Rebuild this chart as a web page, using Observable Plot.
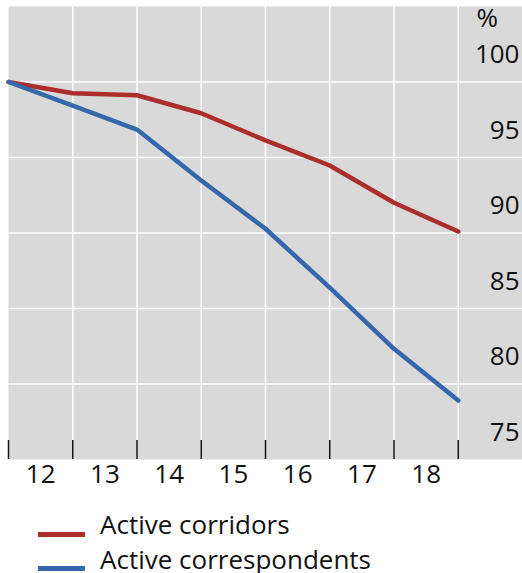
<!DOCTYPE html>
<html>
<head>
<meta charset="utf-8">
<script src="https://cdn.jsdelivr.net/npm/d3@7"></script>
<script src="https://cdn.jsdelivr.net/npm/@observablehq/plot@0.6"></script>
<style>
  body { margin: 0; background: #fff; font-family: "Open Sans", sans-serif; }
  #wrap { position: relative; width: 522px; height: 573px; overflow: hidden; }
  #wrap svg { display: block; }
  .leg { position: absolute; left: 0; height: 28px; width: 522px; }
  .sw { position: absolute; left: 38px; width: 47px; height: 5px; top: 21.5px; }
  .lt { position: absolute; left: 100px; top: 0; font-size: 26px; line-height: 28px; color: #111; white-space: nowrap; }
</style>
</head>
<body>
<div id="wrap"></div>
<script>
const years = ["12", "13", "14", "15", "16", "17", "18"];
const periods = [0, 1, 2, 3, 4, 5, 6, 7];
const corridors = [100, 99.26, 99.12, 97.93, 96.13, 94.47, 92.0, 90.1];
const correspondents = [100, 98.44, 96.85, 93.48, 90.28, 86.38, 82.33, 78.9];
const yTicks = [75, 80, 85, 90, 95, 100];
const seriesNames = ["Active corridors", "Active correspondents"];
const colors = ["#ab2e2b", "#3567ac"];

const data = [
  ...periods.map((p, i) => ({x: p, v: corridors[i], s: seriesNames[0]})),
  ...periods.map((p, i) => ({x: p, v: correspondents[i], s: seriesNames[1]}))
];

const plot = Plot.plot({
  width: 522,
  height: 500,
  marginTop: 6,
  marginBottom: 41,
  marginLeft: 8,
  marginRight: 0,
  style: {fontFamily: "Open Sans, sans-serif", color: "#111"},
  x: {domain: [0, 8], axis: null},
  y: {domain: [75, 105], axis: null},
  color: {domain: seriesNames, range: colors},
  marks: [
    Plot.frame({fill: "#d9d9d9", stroke: null}),
    Plot.ruleY([80, 85, 90, 95, 100], {stroke: "white", strokeWidth: 1.5}),
    Plot.ruleX(periods.slice(1), {stroke: "white", strokeWidth: 1.5}),
    Plot.ruleX(periods, {stroke: "#111", strokeWidth: 1.5, insetTop: 434}),
    Plot.line(data, {x: "x", y: "v", stroke: "s", z: "s", strokeWidth: 4.5, strokeLinejoin: "round", strokeLinecap: "round"}),
    Plot.text(yTicks, {y: d => d, text: d => String(d), frameAnchor: "right", textAnchor: "end", lineAnchor: "middle", dx: -3, dy: -27, fontSize: 26, fill: "#111"}),
    Plot.text(["%"], {frameAnchor: "top-right", textAnchor: "start", lineAnchor: "middle", dx: -46, dy: 12, fontSize: 26, fill: "#111"}),
    Plot.text(years, {x: (d, i) => i + 0.5, text: d => d, frameAnchor: "bottom", lineAnchor: "middle", dy: 15, fontSize: 26, fill: "#111"})
  ]
});

const wrap = document.getElementById("wrap");
wrap.appendChild(plot);

seriesNames.forEach((name, i) => {
  const row = document.createElement("div");
  row.className = "leg";
  row.style.top = (510 + i * 34.5) + "px";
  const sw = document.createElement("div");
  sw.className = "sw";
  sw.style.background = colors[i];
  const t = document.createElement("div");
  t.className = "lt";
  t.textContent = name;
  row.appendChild(sw);
  row.appendChild(t);
  wrap.appendChild(row);
});
</script>
</body>
</html>
